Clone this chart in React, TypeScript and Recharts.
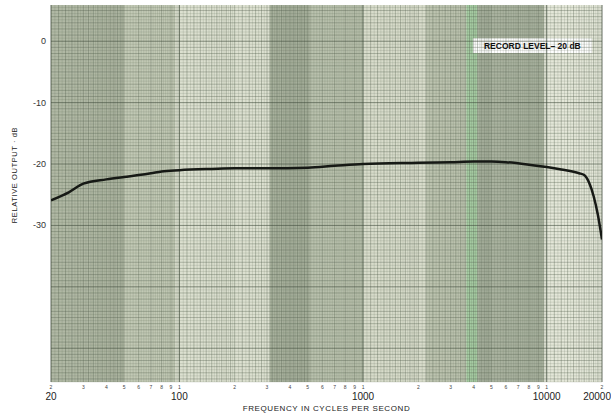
import React from 'react';
import { LineChart, Line, XAxis, YAxis, ReferenceLine, ReferenceArea } from 'recharts';

// Frequency response data (Hz, relative output dB)
const frequencies = [20, 25, 30, 40, 50, 60, 70, 80, 100, 150, 200, 300, 500, 700, 1000, 2000, 3000, 4000, 5000, 6000, 8000, 10000, 12000, 15000, 16000, 17000, 18000, 19000, 20000];
const outputDb = [-25.9, -24.6, -23.2, -22.5, -22.1, -21.8, -21.5, -21.2, -21.0, -20.8, -20.7, -20.7, -20.6, -20.3, -20.0, -19.8, -19.7, -19.6, -19.6, -19.7, -20.1, -20.5, -20.9, -21.5, -21.8, -23.0, -25.2, -28.3, -32.3];

// Axis ticks
const yTicks = [0, -10, -20, -30];
const yTickLabels = ['0', '-10', '-20', '-30'];
const xMinorTicks = [20, 30, 40, 50, 60, 70, 80, 90, 100, 200, 300, 400, 500, 600, 700, 800, 900, 1000, 2000, 3000, 4000, 5000, 6000, 7000, 8000, 9000, 10000, 20000];
const xMinorLabels = ['2', '3', '4', '5', '6', '7', '8', '9', '1', '2', '3', '4', '5', '6', '7', '8', '9', '1', '2', '3', '4', '5', '6', '7', '8', '9', '1', '2'];
const xMajorTicks = [20, 100, 1000, 10000, 20000];
const xMajorLabels = ['20', '100', '1000', '10000', '20000'];

// Paper shading bands (frequency ranges) of the scanned chart paper
const bandStarts = [20, 50, 95, 310, 520, 1000, 2200, 3650, 4200, 9700];
const bandEnds = [50, 95, 310, 520, 1000, 2200, 3650, 4200, 9700, 20000];
const bandColors = ['#b0b8a4', '#c2c9b5', '#dce0d0', '#a8b19d', '#b9c1ad', '#d8dccb', '#bcc3af', '#a6cca3', '#a9b29f', '#e4e7d9'];

const data = frequencies.map((f, i) => ({ f, db: outputDb[i] }));

// Chart paper grid values
const gridFine: number[] = [];
const gridMed: number[] = [];
for (const d of [10, 100, 1000, 10000]) {
  for (let m = 1; m < 10; m += 0.05) {
    const v = +(d * m).toFixed(3);
    if (v < 20 || v > 20000) continue;
    const mm = +m.toFixed(2);
    if (mm < 2) {
      if (Math.abs(mm * 10 - Math.round(mm * 10)) < 1e-6) gridMed.push(v); else gridFine.push(v);
    } else if (mm < 5) {
      if (Math.abs(mm * 10 - Math.round(mm * 10)) < 1e-6) {
        if (Math.round(mm * 10) % 2 === 0) gridMed.push(v); else gridFine.push(v);
      }
    } else {
      if (Math.abs(mm * 5 - Math.round(mm * 5)) < 1e-6) {
        if (Math.abs(mm * 2 - Math.round(mm * 2)) < 1e-6) gridMed.push(v); else gridFine.push(v);
      }
    }
  }
}
const gridMajorX = [20, 100, 1000, 10000, 20000];
const hFine: number[] = [];
const hMed: number[] = [];
const hMajor: number[] = [];
for (let v = 5.5; v >= -55.5; v -= 0.5) {
  const r = +v.toFixed(1);
  if (r % 10 === 0) hMajor.push(r);
  else if (Number.isInteger(r)) hMed.push(r);
  else hFine.push(r);
}

const FONT = 'Liberation Sans, Arial, sans-serif';

const MinorMajorTick = (props: any) => {
  const { x, y, payload } = props;
  const idx = xMinorTicks.indexOf(payload.value);
  const mIdx = xMajorTicks.indexOf(payload.value);
  const isLast = mIdx === xMajorTicks.length - 1;
  return (
    <g>
      {idx >= 0 && (
        <text x={x} y={y + 7} textAnchor="middle" fontSize={5} fill="#444" fontFamily={FONT}>
          {xMinorLabels[idx]}
        </text>
      )}
      {mIdx >= 0 && (
        <text x={isLast ? x + 9 : x} y={y + 18} textAnchor={isLast ? 'end' : 'middle'} fontSize={10} fill="#222" fontFamily={FONT}>
          {xMajorLabels[mIdx]}
        </text>
      )}
    </g>
  );
};

const YTick = (props: any) => {
  const { x, y, payload } = props;
  const idx = yTicks.indexOf(payload.value);
  return (
    <text x={x} y={y} dy={3} textAnchor="end" fontSize={9} fill="#333" fontFamily={FONT}>
      {idx >= 0 ? yTickLabels[idx] : payload.value}
    </text>
  );
};

export default function App() {
  return (
    <div style={{ position: 'absolute', left: 0, top: 0, width: 611, height: 413, background: '#ffffff' }}>
      <LineChart width={611} height={413} data={data} margin={{ top: 5, right: 9, left: 0, bottom: 0 }}>
        <XAxis
          dataKey="f"
          type="number"
          scale="log"
          domain={[20, 20000]}
          ticks={xMinorTicks}
          interval={0}
          tick={<MinorMajorTick />}
          tickLine={false}
          axisLine={false}
          tickSize={0}
          tickMargin={0}
          height={31}
          allowDataOverflow
          label={{ value: 'FREQUENCY IN CYCLES PER SECOND', position: 'insideBottom', offset: 2, fontSize: 8, fill: '#222', fontFamily: FONT, letterSpacing: 0.6 }}
        />
        <YAxis
          type="number"
          domain={[-55.5, 5.9]}
          ticks={yTicks}
          interval={0}
          tick={<YTick />}
          tickLine={false}
          axisLine={false}
          tickSize={0}
          tickMargin={5}
          width={51}
          allowDataOverflow
        />
        <ReferenceArea x1={20} x2={20000} y1={-55.5} y2={5.9} fill="#e4e7d8" fillOpacity={1} stroke="none" ifOverflow="hidden" />
        {bandStarts.map((s, i) => (
          <ReferenceArea key={'b' + i} x1={s} x2={bandEnds[i]} y1={-55.5} y2={5.9} fill={bandColors[i]} fillOpacity={1} stroke="none" ifOverflow="hidden" />
        ))}
        {hFine.map((v) => (
          <ReferenceLine key={'hf' + v} y={v} stroke="#4f5b4a" strokeOpacity={0.25} strokeWidth={0.6} />
        ))}
        {hMed.map((v) => (
          <ReferenceLine key={'hm' + v} y={v} stroke="#4f5b4a" strokeOpacity={0.5} strokeWidth={0.7} />
        ))}
        {gridFine.map((v) => (
          <ReferenceLine key={'vf' + v} x={v} stroke="#4f5b4a" strokeOpacity={0.25} strokeWidth={0.6} />
        ))}
        {gridMed.map((v) => (
          <ReferenceLine key={'vm' + v} x={v} stroke="#4f5b4a" strokeOpacity={0.5} strokeWidth={0.7} />
        ))}
        {hMajor.map((v) => (
          <ReferenceLine key={'hM' + v} y={v} stroke="#3e4a3a" strokeOpacity={0.65} strokeWidth={0.9} />
        ))}
        {gridMajorX.map((v) => (
          <ReferenceLine key={'vM' + v} x={v} stroke="#3e4a3a" strokeOpacity={0.65} strokeWidth={0.9} />
        ))}
        <ReferenceArea
          x1={3965}
          x2={17600}
          y1={0.5}
          y2={-1.9}
          fill="#ffffff"
          fillOpacity={1}
          stroke="none"
          label={{ value: 'RECORD LEVEL– 20 dB', position: 'center', fontSize: 8.5, fontWeight: 'bold', fill: '#111', fontFamily: FONT }}
        />
        <Line
          type="monotone"
          dataKey="db"
          stroke="#161915"
          strokeWidth={2.5}
          dot={false}
          isAnimationActive={false}
        />
      </LineChart>
      <svg width={30} height={413} style={{ position: 'absolute', left: 0, top: 0 }}>
        <text
          x={15}
          y={175}
          transform="rotate(-90 15 175)"
          textAnchor="middle"
          dominantBaseline="middle"
          fontSize={7.5}
          letterSpacing={0.6}
          fill="#222"
          fontFamily={FONT}
        >
          RELATIVE OUTPUT · dB
        </text>
      </svg>
    </div>
  );
}
